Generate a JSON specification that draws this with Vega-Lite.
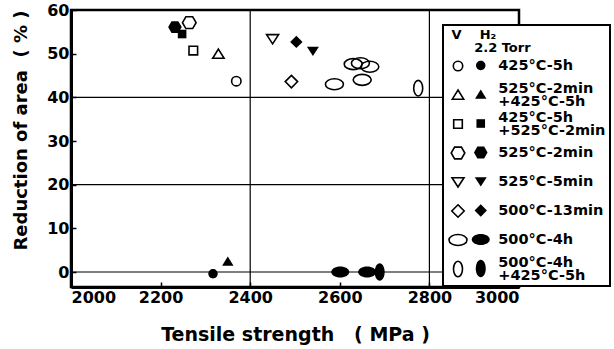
{
  "$schema": "https://vega.github.io/schema/vega-lite/v6.json",
  "width": 448,
  "height": 277,
  "autosize": {"type": "none"},
  "padding": {"left": 71, "top": 10, "right": 95, "bottom": 62},
  "background": "white",
  "config": {
    "view": {"stroke": "black", "strokeWidth": 2.5},
    "font": "DejaVu Sans",
    "style": {"guide-label": {"lineHeight": 13}},
    "axis": {
      "domainColor": "black", "domainWidth": 3,
      "tickColor": "black", "tickSize": -5, "tickWidth": 1.5,
      "labelFont": "DejaVu Sans", "labelFontWeight": "bold", "labelFontSize": 16, "labelColor": "black",
      "titleFont": "DejaVu Sans", "titleFontSize": 18, "titleFontWeight": "bold", "titleColor": "black",
      "grid": false, "labelPadding": 7, "format": "d"
    },
    "axisY": {"titleAnchor": "end", "titlePadding": 16},
    "axisX": {"titlePadding": 20, "titleFontSize": 19},
    "legend": {"strokeWidth": 2}
  },
  "datasets": {
    "pts": [
      {"gas": "V", "treatment": "425°C-5h", "ts": 2369, "ra": 43.7},
      {"gas": "V", "treatment": "525°C-2min|+425°C-5h", "ts": 2329, "ra": 49.9},
      {"gas": "V", "treatment": "425°C-5h|+525°C-2min", "ts": 2273, "ra": 50.7},
      {"gas": "V", "treatment": "525°C-2min", "ts": 2264, "ra": 57.1},
      {"gas": "V", "treatment": "525°C-5min", "ts": 2450, "ra": 53.4},
      {"gas": "V", "treatment": "500°C-13min", "ts": 2492, "ra": 43.6},
      {"gas": "V", "treatment": "500°C-4h", "ts": 2588, "ra": 43.0},
      {"gas": "V", "treatment": "500°C-4h", "ts": 2650, "ra": 44.0},
      {"gas": "V", "treatment": "500°C-4h", "ts": 2630, "ra": 47.6},
      {"gas": "V", "treatment": "500°C-4h", "ts": 2646, "ra": 47.8},
      {"gas": "V", "treatment": "500°C-4h", "ts": 2667, "ra": 47.0},
      {"gas": "V", "treatment": "500°C-4h|+425°C-5h", "ts": 2775, "ra": 42.1},
      {"gas": "H2", "treatment": "425°C-5h", "ts": 2317, "ra": -0.4},
      {"gas": "H2", "treatment": "525°C-2min|+425°C-5h", "ts": 2350, "ra": 2.4},
      {"gas": "H2", "treatment": "425°C-5h|+525°C-2min", "ts": 2248, "ra": 54.5},
      {"gas": "H2", "treatment": "525°C-2min", "ts": 2232, "ra": 56.1},
      {"gas": "H2", "treatment": "525°C-5min", "ts": 2540, "ra": 50.6},
      {"gas": "H2", "treatment": "500°C-13min", "ts": 2503, "ra": 52.7},
      {"gas": "H2", "treatment": "500°C-4h", "ts": 2601, "ra": 0},
      {"gas": "H2", "treatment": "500°C-4h", "ts": 2661, "ra": 0},
      {"gas": "H2", "treatment": "500°C-4h|+425°C-5h", "ts": 2689, "ra": 0}
    ]
  },
  "layer": [
    {
      "data": {"values": [{"g": 0}, {"g": 20}, {"g": 40}]},
      "mark": {"type": "rule", "color": "black", "strokeWidth": 1.2},
      "encoding": {
        "y": {"field": "g", "type": "quantitative", "title": "Reduction of area\u00a0\u00a0( % )",
              "scale": {"domain": [-3.43, 60], "nice": false, "zero": false},
              "axis": {"values": [0, 10, 20, 30, 40, 50, 60]}}
      }
    },
    {
      "data": {"values": [{"g": 2400}, {"g": 2800}]},
      "mark": {"type": "rule", "color": "black", "strokeWidth": 1.2},
      "encoding": {
        "x": {"field": "g", "type": "quantitative", "title": "Tensile strength\u00a0\u00a0\u00a0( MPa )",
              "scale": {"domain": [2000, 3000], "nice": false, "zero": false},
              "axis": {"values": [2000, 2200, 2400, 2600, 2800, 3000]}}
      }
    },
    {
      "data": {"name": "pts"},
      "transform": [{"filter": "datum.gas === 'H2'"}],
      "mark": {"type": "point", "filled": true, "color": "black", "size": 400, "opacity": 1},
      "encoding": {
        "x": {"field": "ts", "type": "quantitative", "title": "Tensile strength\u00a0\u00a0\u00a0( MPa )", "axis": {"values": [2000, 2200, 2400, 2600, 2800, 3000]}},
        "y": {"field": "ra", "type": "quantitative", "title": "Reduction of area\u00a0\u00a0( % )", "axis": {"values": [0, 10, 20, 30, 40, 50, 60]}},
        "shape": {
          "field": "treatment", "type": "nominal",
          "scale": {
            "domain": ["425°C-5h", "525°C-2min|+425°C-5h", "425°C-5h|+525°C-2min", "525°C-2min", "525°C-5min", "500°C-13min", "500°C-4h", "500°C-4h|+425°C-5h"],
            "range": [
              "M0.47,0A0.47,0.47,0,1,1,-0.47,0A0.47,0.47,0,1,1,0.47,0Z",
              "M0,-0.5L0.57,0.42L-0.57,0.42Z",
              "M-0.43,-0.43H0.43V0.43H-0.43Z",
              "M0.68,0L0.34,-0.59L-0.34,-0.59L-0.68,0L-0.34,0.59L0.34,0.59Z",
              "M0,0.5L0.6,-0.42L-0.6,-0.42Z",
              "M0,-0.62L0.62,0L0,0.62L-0.62,0Z",
              "M0.9,0A0.9,0.55,0,1,1,-0.9,0A0.9,0.55,0,1,1,0.9,0Z",
              "M0.5,0A0.5,0.88,0,1,1,-0.5,0A0.5,0.88,0,1,1,0.5,0Z"
            ]
          },
          "legend": {
            "orient": "none", "legendX": 372, "legendY": 15, "zindex": 1,
            "title": ["\u200b\u00a0V\u00a0\u00a0\u00a0\u00a0H₂", "\u200b\u00a0\u00a0\u00a0\u00a0\u00a0\u00a02.2 Torr"], "titleFontSize": 13, "titleFontWeight": "bold", "titleLineHeight": 13, "titlePadding": 0, "titleColor": "black",
            "padding": 4, "strokeColor": "black", "fillColor": "white",
            "symbolSize": 400, "symbolOffset": 23.25, "symbolFillColor": "black", "symbolStrokeColor": "black", "symbolStrokeWidth": 1,
            "labelOffset": 7, "labelExpr": "split(datum.label, '|')",
            "labelBaseline": {"expr": "indexof(datum.value, '|') >= 0 ? 'line-bottom' : 'middle'"},
            "labelFontSize": 14.5, "labelFontWeight": "bold", "labelColor": "black", "labelLimit": 200,
            "gridAlign": "all", "rowPadding": 1
          }
        }
      }
    },
    {
      "data": {"name": "pts"},
      "transform": [{"filter": "datum.gas === 'V'"}],
      "mark": {"type": "point", "filled": false, "stroke": "black", "strokeWidth": 1.6, "size": 400, "opacity": 1},
      "encoding": {
        "x": {"field": "ts", "type": "quantitative", "title": "Tensile strength\u00a0\u00a0\u00a0( MPa )", "axis": {"values": [2000, 2200, 2400, 2600, 2800, 3000]}},
        "y": {"field": "ra", "type": "quantitative", "title": "Reduction of area\u00a0\u00a0( % )", "axis": {"values": [0, 10, 20, 30, 40, 50, 60]}},
        "shape": {
          "field": "treatment", "type": "nominal",
          "scale": {
            "domain": ["425°C-5h", "525°C-2min|+425°C-5h", "425°C-5h|+525°C-2min", "525°C-2min", "525°C-5min", "500°C-13min", "500°C-4h", "500°C-4h|+425°C-5h"],
            "range": [
              "M0.47,0A0.47,0.47,0,1,1,-0.47,0A0.47,0.47,0,1,1,0.47,0Z",
              "M0,-0.5L0.57,0.42L-0.57,0.42Z",
              "M-0.43,-0.43H0.43V0.43H-0.43Z",
              "M0.68,0L0.34,-0.59L-0.34,-0.59L-0.68,0L-0.34,0.59L0.34,0.59Z",
              "M0,0.5L0.6,-0.42L-0.6,-0.42Z",
              "M0,-0.62L0.62,0L0,0.62L-0.62,0Z",
              "M0.9,0A0.9,0.55,0,1,1,-0.9,0A0.9,0.55,0,1,1,0.9,0Z",
              "M0.45,0A0.45,0.78,0,1,1,-0.45,0A0.45,0.78,0,1,1,0.45,0Z"
            ]
          },
          "legend": {
            "orient": "none", "legendX": 372, "legendY": 15, "zindex": 2,
            "title": [" ", " "], "titleFontSize": 13, "titleFontWeight": "bold", "titleLineHeight": 13, "titlePadding": 0, "titleColor": "black",
            "padding": 4,
            "symbolSize": 400, "symbolFillColor": "white", "symbolStrokeColor": "black", "symbolStrokeWidth": 1.6,
            "labelOpacity": 0, "labelOffset": 0,
            "labelExpr": "indexof(datum.value, '|') >= 0 ? [' ', ' '] : ' '",
            "labelBaseline": {"expr": "indexof(datum.value, '|') >= 0 ? 'line-bottom' : 'middle'"},
            "labelFontSize": 14.5, "labelFontWeight": "bold", "labelColor": "black", "labelLimit": 200,
            "gridAlign": "all", "rowPadding": 1
          }
        }
      }
    }
  ],
  "resolve": {"scale": {"shape": "independent"}, "legend": {"shape": "independent"}}
}
